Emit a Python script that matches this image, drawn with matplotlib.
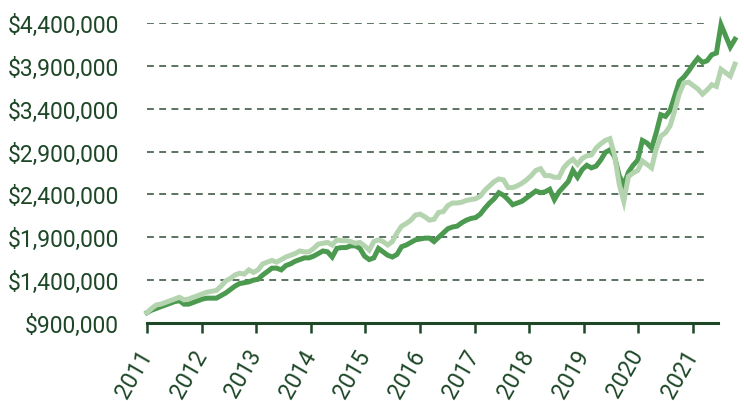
#!/usr/bin/env python3
"""
Growth of two portfolios, 2011 - 2021
"""

import numpy as np
import matplotlib
matplotlib.use("Agg")
import matplotlib.pyplot as plt
import matplotlib.transforms as mtransforms
from matplotlib.ticker import FuncFormatter

# values in $ millions, evenly spaced samples from early 2011 to late 2021
dark_values = [
    1.02, 1.05, 1.07, 1.09, 1.11, 1.13, 1.15, 1.16, 1.12, 1.12, 1.14, 1.16,
    1.18, 1.19, 1.19, 1.19, 1.22, 1.25, 1.29, 1.33, 1.36, 1.37, 1.38, 1.40,
    1.41, 1.46, 1.50, 1.54, 1.54, 1.52, 1.57, 1.59, 1.62, 1.64, 1.66, 1.66,
    1.68, 1.71, 1.74, 1.73, 1.67, 1.77, 1.78, 1.78, 1.80, 1.80, 1.77, 1.68,
    1.64, 1.66, 1.77, 1.73, 1.69, 1.67, 1.70, 1.79, 1.81, 1.84, 1.87, 1.88,
    1.89, 1.89, 1.85, 1.90, 1.95, 2.00, 2.02, 2.03, 2.07, 2.10, 2.12, 2.13,
    2.17, 2.24, 2.30, 2.35, 2.42, 2.39, 2.34, 2.28, 2.30, 2.32, 2.36, 2.40,
    2.44, 2.42, 2.43, 2.46, 2.34, 2.43, 2.49, 2.55, 2.68, 2.60, 2.69, 2.74,
    2.71, 2.73, 2.80, 2.89, 2.92, 2.84, 2.62, 2.51, 2.66, 2.74, 2.80, 3.03,
    3.00, 2.94, 3.12, 3.33, 3.31, 3.38, 3.55, 3.72, 3.77, 3.84, 3.92, 3.99,
    3.94, 3.96, 4.03, 4.05, 4.38, 4.25, 4.12, 4.21,
]
light_values = [
    1.02, 1.07, 1.11, 1.12, 1.14, 1.16, 1.18, 1.20, 1.17, 1.18, 1.20, 1.22,
    1.24, 1.26, 1.27, 1.28, 1.33, 1.39, 1.42, 1.46, 1.48, 1.47, 1.52, 1.49,
    1.52, 1.59, 1.61, 1.63, 1.61, 1.64, 1.67, 1.69, 1.71, 1.74, 1.73, 1.73,
    1.77, 1.82, 1.83, 1.84, 1.81, 1.87, 1.86, 1.86, 1.85, 1.83, 1.84, 1.80,
    1.75, 1.85, 1.87, 1.85, 1.81, 1.85, 1.95, 2.03, 2.06, 2.10, 2.16, 2.17,
    2.14, 2.10, 2.11, 2.19, 2.20, 2.27, 2.30, 2.30, 2.31, 2.33, 2.34, 2.35,
    2.38, 2.45, 2.50, 2.55, 2.58, 2.57, 2.48, 2.48, 2.50, 2.53, 2.57, 2.62,
    2.68, 2.70, 2.62, 2.62, 2.60, 2.60, 2.71, 2.77, 2.81, 2.75, 2.82, 2.85,
    2.86, 2.94, 2.99, 3.03, 3.05, 2.86, 2.52, 2.32, 2.61, 2.65, 2.68, 2.79,
    2.75, 2.71, 2.93, 3.08, 3.12, 3.20, 3.38, 3.58, 3.70, 3.71, 3.67, 3.63,
    3.57, 3.62, 3.68, 3.66, 3.86, 3.82, 3.78, 3.92,
]
first_date = 2011.0
last_date = 2021.77
years = list(range(2011, 2022))
y_ticks = [900000, 1400000, 1900000, 2400000, 2900000, 3400000, 3900000, 4400000]

DARK = "#4b9a4f"
LIGHT = "#b4d4b0"
TEXT = "#1d4727"
GRID = "#2f4d36"

plt.rcParams["font.family"] = ["Roboto", "DejaVu Sans"]

fig = plt.figure(figsize=(7.44, 4.02), dpi=100)
ax = fig.add_axes([147 / 744, 78 / 402, (718 - 147) / 744, 300 / 402])

x = np.linspace(first_date, last_date, len(dark_values))

# dashed gridlines stop a bit after the last year tick
ax.hlines(y_ticks[1:], years[0], years[-1] + 0.2, colors=GRID,
          linestyles=(0, (4.5, 3.5)), linewidth=1.1, zorder=1)

ax.plot(x, np.array(dark_values) * 1e6, color=DARK, linewidth=3.6,
        solid_joinstyle="miter", clip_on=False, zorder=3)
ax.plot(x, np.array(light_values) * 1e6, color=LIGHT, linewidth=3.6,
        solid_joinstyle="miter", clip_on=False, zorder=4)

ax.set_xlim(years[0], years[0] + 10.46)
ax.set_ylim(y_ticks[0], y_ticks[-1])

ax.set_xticks(years)
ax.set_xticklabels([str(y) for y in years], rotation=60, ha="right",
                   va="center", rotation_mode="anchor")
ax.set_yticks(y_ticks)
ax.yaxis.set_major_formatter(FuncFormatter(lambda v, p: f"${v:,.0f}"))

# nudge year labels a little to the right
shift = mtransforms.ScaledTranslation(3 / 100, 0, fig.dpi_scale_trans)
for lbl in ax.get_xticklabels():
    lbl.set_transform(lbl.get_transform() + shift)

for s in ["left", "right", "top"]:
    ax.spines[s].set_visible(False)
ax.spines["bottom"].set_color(TEXT)
ax.spines["bottom"].set_linewidth(2.2)

ax.tick_params(axis="x", direction="out", length=7, width=1.8, color=TEXT,
               labelcolor=TEXT, labelsize=16.5, pad=13)
ax.tick_params(axis="y", length=0, labelcolor=TEXT, labelsize=16.5, pad=20)

fig.savefig("out.png", dpi=100)
